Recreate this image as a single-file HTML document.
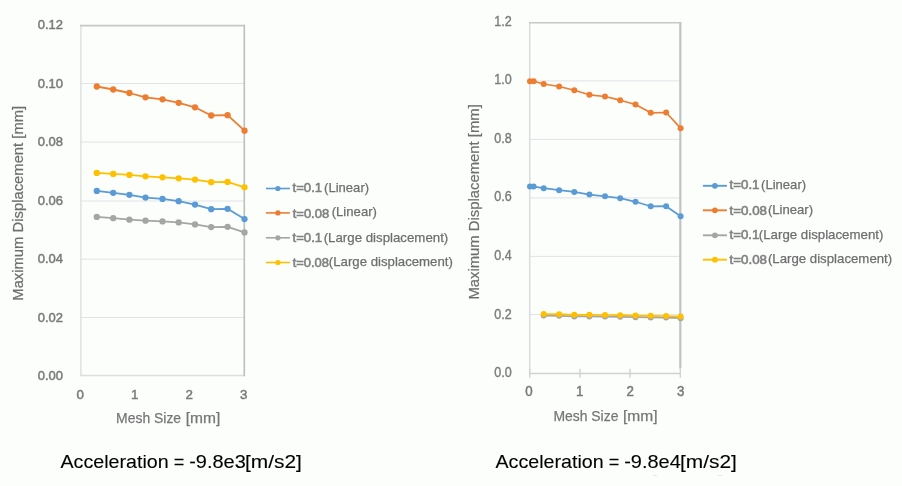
<!DOCTYPE html>
<html lang="en">
<head>
<meta charset="utf-8">
<title>Maximum Displacement - Mesh Size</title>
<style>
html,body{margin:0;padding:0;background:#fbfefb;}
body{width:902px;height:486px;overflow:hidden;}
svg{display:block;font-family:"Liberation Sans",sans-serif;}
.soft{filter:blur(0.55px);}
text{stroke-linejoin:round;}
</style>
</head>
<body>
<svg width="902" height="486" viewBox="0 0 902 486">
<rect x="0" y="0" width="902" height="486" fill="#fbfefb"/>
<g id="chart-left" class="soft">
<line x1="80.9" y1="83.5" x2="244.1" y2="83.5" stroke="#e3e2e6" stroke-width="1"/>
<line x1="80.9" y1="142.1" x2="244.1" y2="142.1" stroke="#e3e2e6" stroke-width="1"/>
<line x1="80.9" y1="201.0" x2="244.1" y2="201.0" stroke="#e3e2e6" stroke-width="1"/>
<line x1="80.9" y1="259.2" x2="244.1" y2="259.2" stroke="#e3e2e6" stroke-width="1"/>
<line x1="80.9" y1="317.5" x2="244.1" y2="317.5" stroke="#e3e2e6" stroke-width="1"/>
<line x1="80.9" y1="24.8" x2="80.9" y2="376.3" stroke="#dedede" stroke-width="1.4"/>
<line x1="80.1" y1="375.6" x2="245.0" y2="375.6" stroke="#dedede" stroke-width="1.5"/>
<line x1="80.1" y1="25.6" x2="245.0" y2="25.6" stroke="#c8c8c8" stroke-width="1.8"/>
<line x1="244.3" y1="24.7" x2="244.3" y2="376.3" stroke="#bebebe" stroke-width="1.6"/>
<polyline points="96.8,190.9 113.2,192.8 129.4,194.8 145.5,197.6 162.5,198.9 178.7,201.2 195.0,204.6 211.2,209.2 227.6,208.8 244.5,219.1" fill="none" stroke="#5b9bd5" stroke-width="1.8" stroke-linejoin="round" stroke-linecap="round"/>
<circle cx="96.8" cy="190.9" r="3.15" fill="#5b9bd5"/><circle cx="113.2" cy="192.8" r="3.15" fill="#5b9bd5"/><circle cx="129.4" cy="194.8" r="3.15" fill="#5b9bd5"/><circle cx="145.5" cy="197.6" r="3.15" fill="#5b9bd5"/><circle cx="162.5" cy="198.9" r="3.15" fill="#5b9bd5"/><circle cx="178.7" cy="201.2" r="3.15" fill="#5b9bd5"/><circle cx="195.0" cy="204.6" r="3.15" fill="#5b9bd5"/><circle cx="211.2" cy="209.2" r="3.15" fill="#5b9bd5"/><circle cx="227.6" cy="208.8" r="3.15" fill="#5b9bd5"/><circle cx="244.5" cy="219.1" r="3.15" fill="#5b9bd5"/>
<polyline points="96.8,86.5 113.2,89.5 129.4,93.0 145.5,97.3 162.5,99.3 178.7,102.8 195.0,107.3 211.2,115.5 227.6,115.2 244.5,130.7" fill="none" stroke="#ed7d31" stroke-width="1.8" stroke-linejoin="round" stroke-linecap="round"/>
<circle cx="96.8" cy="86.5" r="3.15" fill="#ed7d31"/><circle cx="113.2" cy="89.5" r="3.15" fill="#ed7d31"/><circle cx="129.4" cy="93.0" r="3.15" fill="#ed7d31"/><circle cx="145.5" cy="97.3" r="3.15" fill="#ed7d31"/><circle cx="162.5" cy="99.3" r="3.15" fill="#ed7d31"/><circle cx="178.7" cy="102.8" r="3.15" fill="#ed7d31"/><circle cx="195.0" cy="107.3" r="3.15" fill="#ed7d31"/><circle cx="211.2" cy="115.5" r="3.15" fill="#ed7d31"/><circle cx="227.6" cy="115.2" r="3.15" fill="#ed7d31"/><circle cx="244.5" cy="130.7" r="3.15" fill="#ed7d31"/>
<polyline points="96.8,216.9 113.2,218.2 129.4,219.7 145.5,220.7 162.5,221.4 178.7,222.4 195.0,224.4 211.2,227.1 227.6,226.8 244.5,232.4" fill="none" stroke="#a5a5a5" stroke-width="1.8" stroke-linejoin="round" stroke-linecap="round"/>
<circle cx="96.8" cy="216.9" r="3.15" fill="#a5a5a5"/><circle cx="113.2" cy="218.2" r="3.15" fill="#a5a5a5"/><circle cx="129.4" cy="219.7" r="3.15" fill="#a5a5a5"/><circle cx="145.5" cy="220.7" r="3.15" fill="#a5a5a5"/><circle cx="162.5" cy="221.4" r="3.15" fill="#a5a5a5"/><circle cx="178.7" cy="222.4" r="3.15" fill="#a5a5a5"/><circle cx="195.0" cy="224.4" r="3.15" fill="#a5a5a5"/><circle cx="211.2" cy="227.1" r="3.15" fill="#a5a5a5"/><circle cx="227.6" cy="226.8" r="3.15" fill="#a5a5a5"/><circle cx="244.5" cy="232.4" r="3.15" fill="#a5a5a5"/>
<polyline points="96.8,172.9 113.2,173.9 129.4,174.9 145.5,176.3 162.5,177.3 178.7,178.3 195.0,179.6 211.2,182.2 227.6,181.9 244.5,187.3" fill="none" stroke="#ffc000" stroke-width="1.8" stroke-linejoin="round" stroke-linecap="round"/>
<circle cx="96.8" cy="172.9" r="3.15" fill="#ffc000"/><circle cx="113.2" cy="173.9" r="3.15" fill="#ffc000"/><circle cx="129.4" cy="174.9" r="3.15" fill="#ffc000"/><circle cx="145.5" cy="176.3" r="3.15" fill="#ffc000"/><circle cx="162.5" cy="177.3" r="3.15" fill="#ffc000"/><circle cx="178.7" cy="178.3" r="3.15" fill="#ffc000"/><circle cx="195.0" cy="179.6" r="3.15" fill="#ffc000"/><circle cx="211.2" cy="182.2" r="3.15" fill="#ffc000"/><circle cx="227.6" cy="181.9" r="3.15" fill="#ffc000"/><circle cx="244.5" cy="187.3" r="3.15" fill="#ffc000"/>
<text x="63.0" y="29.0" font-size="13.6" text-anchor="end" fill="#7a7a7a" textLength="25.3" lengthAdjust="spacingAndGlyphs" stroke="#7a7a7a" stroke-width="0.5">0.12</text>
<text x="63.0" y="87.5" font-size="13.6" text-anchor="end" fill="#7a7a7a" textLength="25.3" lengthAdjust="spacingAndGlyphs" stroke="#7a7a7a" stroke-width="0.5">0.10</text>
<text x="63.0" y="146.0" font-size="13.6" text-anchor="end" fill="#7a7a7a" textLength="25.3" lengthAdjust="spacingAndGlyphs" stroke="#7a7a7a" stroke-width="0.5">0.08</text>
<text x="63.0" y="204.5" font-size="13.6" text-anchor="end" fill="#7a7a7a" textLength="25.3" lengthAdjust="spacingAndGlyphs" stroke="#7a7a7a" stroke-width="0.5">0.06</text>
<text x="63.0" y="263.0" font-size="13.6" text-anchor="end" fill="#7a7a7a" textLength="25.3" lengthAdjust="spacingAndGlyphs" stroke="#7a7a7a" stroke-width="0.5">0.04</text>
<text x="63.0" y="321.5" font-size="13.6" text-anchor="end" fill="#7a7a7a" textLength="25.3" lengthAdjust="spacingAndGlyphs" stroke="#7a7a7a" stroke-width="0.5">0.02</text>
<text x="63.0" y="380.0" font-size="13.6" text-anchor="end" fill="#7a7a7a" textLength="25.3" lengthAdjust="spacingAndGlyphs" stroke="#7a7a7a" stroke-width="0.5">0.00</text>
<text x="80.1" y="399.0" font-size="13.6" text-anchor="middle" fill="#7a7a7a" textLength="7.4" lengthAdjust="spacingAndGlyphs" stroke="#7a7a7a" stroke-width="0.5">0</text>
<text x="134.6" y="399.0" font-size="13.6" text-anchor="middle" fill="#7a7a7a" textLength="7.4" lengthAdjust="spacingAndGlyphs" stroke="#7a7a7a" stroke-width="0.5">1</text>
<text x="189.2" y="399.0" font-size="13.6" text-anchor="middle" fill="#7a7a7a" textLength="7.4" lengthAdjust="spacingAndGlyphs" stroke="#7a7a7a" stroke-width="0.5">2</text>
<text x="243.8" y="399.0" font-size="13.6" text-anchor="middle" fill="#7a7a7a" textLength="7.4" lengthAdjust="spacingAndGlyphs" stroke="#7a7a7a" stroke-width="0.5">3</text>
<text y="423.3" font-size="14.4" fill="#767676" stroke="#767676" stroke-width="0.25"><tspan x="116.1" textLength="65.0" lengthAdjust="spacingAndGlyphs">Mesh Size</tspan> <tspan x="185.7" textLength="34.6" lengthAdjust="spacingAndGlyphs">[mm]</tspan></text>
<text transform="translate(22.6,300.7) rotate(-90)" font-size="14.4" fill="#6e6e6e" stroke="#6e6e6e" stroke-width="0.25" textLength="194.9" lengthAdjust="spacingAndGlyphs">Maximum Displacement [mm]</text>
<line x1="265.9" y1="188.5" x2="289.9" y2="188.5" stroke="#5b9bd5" stroke-width="1.6"/><circle cx="277.9" cy="188.5" r="2.6" fill="#5b9bd5"/>
<text x="292.5" y="192.2" font-size="13.4" text-anchor="start" fill="#808080" textLength="29.6" lengthAdjust="spacingAndGlyphs" stroke="#808080" stroke-width="0.6">t=0.1</text>
<text x="324.1" y="192.2" font-size="13.4" text-anchor="start" fill="#6e6e6e" textLength="45.0" lengthAdjust="spacingAndGlyphs" stroke="#6e6e6e" stroke-width="0.25">(Linear)</text>
<line x1="265.9" y1="212.9" x2="289.9" y2="212.9" stroke="#ed7d31" stroke-width="1.6"/><circle cx="277.9" cy="212.9" r="2.6" fill="#ed7d31"/>
<text x="292.7" y="217.5" font-size="13.4" text-anchor="start" fill="#808080" textLength="36.5" lengthAdjust="spacingAndGlyphs" stroke="#808080" stroke-width="0.6">t=0.08</text>
<text x="331.7" y="215.5" font-size="13.4" text-anchor="start" fill="#6e6e6e" textLength="45.3" lengthAdjust="spacingAndGlyphs" stroke="#6e6e6e" stroke-width="0.25">(Linear)</text>
<line x1="265.9" y1="237.8" x2="289.9" y2="237.8" stroke="#a5a5a5" stroke-width="1.6"/><circle cx="277.9" cy="237.8" r="2.6" fill="#a5a5a5"/>
<text x="292.5" y="242.4" font-size="13.4" text-anchor="start" fill="#808080" textLength="29.6" lengthAdjust="spacingAndGlyphs" stroke="#808080" stroke-width="0.6">t=0.1</text>
<text x="323.7" y="241.8" font-size="13.4" text-anchor="start" fill="#6e6e6e" textLength="124.6" lengthAdjust="spacingAndGlyphs" stroke="#6e6e6e" stroke-width="0.25">(Large displacement)</text>
<line x1="265.9" y1="262.5" x2="289.9" y2="262.5" stroke="#ffc000" stroke-width="1.6"/><circle cx="277.9" cy="262.5" r="2.6" fill="#ffc000"/>
<text x="292.7" y="267.2" font-size="13.4" text-anchor="start" fill="#808080" textLength="36.3" lengthAdjust="spacingAndGlyphs" stroke="#808080" stroke-width="0.6">t=0.08</text>
<text x="328.8" y="266.0" font-size="13.4" text-anchor="start" fill="#6e6e6e" textLength="124.1" lengthAdjust="spacingAndGlyphs" stroke="#6e6e6e" stroke-width="0.25">(Large displacement)</text>
</g>
<text y="467.9" font-size="18.6" fill="#000" stroke="#000" stroke-width="0.1"><tspan x="60.5" textLength="108.2" lengthAdjust="spacingAndGlyphs">Acceleration</tspan> <tspan x="173.8" textLength="10.6" lengthAdjust="spacingAndGlyphs">=</tspan> <tspan x="189.2" textLength="56.6" lengthAdjust="spacingAndGlyphs">-9.8e3</tspan><tspan x="245.0" textLength="56.9" lengthAdjust="spacingAndGlyphs">[m/s2]</tspan></text>
<g id="chart-right" class="soft">
<line x1="529.7" y1="80.9" x2="680.3" y2="80.9" stroke="#e3e2e6" stroke-width="1"/>
<line x1="529.7" y1="139.4" x2="680.3" y2="139.4" stroke="#e3e2e6" stroke-width="1"/>
<line x1="529.7" y1="197.9" x2="680.3" y2="197.9" stroke="#e3e2e6" stroke-width="1"/>
<line x1="529.7" y1="256.4" x2="680.3" y2="256.4" stroke="#e3e2e6" stroke-width="1"/>
<line x1="529.7" y1="314.6" x2="680.3" y2="314.6" stroke="#e3e2e6" stroke-width="1"/>
<line x1="529.7" y1="22.05" x2="529.7" y2="374.3" stroke="#dadadd" stroke-width="1.4"/>
<line x1="529.0" y1="373.5" x2="681.0" y2="373.5" stroke="#d2d2d2" stroke-width="1.4"/>
<line x1="529.7" y1="368.7" x2="529.7" y2="377.8" stroke="#d2d2d2" stroke-width="1.4"/>
<line x1="580.0" y1="368.7" x2="580.0" y2="377.8" stroke="#d2d2d2" stroke-width="1.4"/>
<line x1="630.0" y1="368.7" x2="630.0" y2="377.8" stroke="#d2d2d2" stroke-width="1.4"/>
<line x1="680.3" y1="368.7" x2="680.3" y2="377.8" stroke="#d2d2d2" stroke-width="1.4"/>
<line x1="529.0" y1="22.75" x2="681.3" y2="22.75" stroke="#c8c8c8" stroke-width="1.5"/>
<line x1="680.3" y1="22.05" x2="680.3" y2="368.6" stroke="#c2c2c4" stroke-width="2.2"/>
<polyline points="530.0,186.6 533.6,186.6 543.7,188.2 559.1,190.2 574.3,191.9 589.4,194.6 605.0,196.3 620.2,198.2 635.5,201.8 650.7,206.3 666.1,206.2 680.6,216.2" fill="none" stroke="#5b9bd5" stroke-width="1.7" stroke-linejoin="round" stroke-linecap="round"/>
<circle cx="530.0" cy="186.6" r="3.0" fill="#5b9bd5"/><circle cx="533.6" cy="186.6" r="3.0" fill="#5b9bd5"/><circle cx="543.7" cy="188.2" r="3.0" fill="#5b9bd5"/><circle cx="559.1" cy="190.2" r="3.0" fill="#5b9bd5"/><circle cx="574.3" cy="191.9" r="3.0" fill="#5b9bd5"/><circle cx="589.4" cy="194.6" r="3.0" fill="#5b9bd5"/><circle cx="605.0" cy="196.3" r="3.0" fill="#5b9bd5"/><circle cx="620.2" cy="198.2" r="3.0" fill="#5b9bd5"/><circle cx="635.5" cy="201.8" r="3.0" fill="#5b9bd5"/><circle cx="650.7" cy="206.3" r="3.0" fill="#5b9bd5"/><circle cx="666.1" cy="206.2" r="3.0" fill="#5b9bd5"/><circle cx="680.6" cy="216.2" r="3.0" fill="#5b9bd5"/>
<polyline points="530.0,81.2 533.6,81.2 543.7,84.0 559.1,86.5 574.3,90.3 589.4,94.8 605.0,96.5 620.2,100.2 635.5,104.5 650.7,112.8 666.1,112.5 680.6,128.2" fill="none" stroke="#ed7d31" stroke-width="1.7" stroke-linejoin="round" stroke-linecap="round"/>
<circle cx="530.0" cy="81.2" r="3.0" fill="#ed7d31"/><circle cx="533.6" cy="81.2" r="3.0" fill="#ed7d31"/><circle cx="543.7" cy="84.0" r="3.0" fill="#ed7d31"/><circle cx="559.1" cy="86.5" r="3.0" fill="#ed7d31"/><circle cx="574.3" cy="90.3" r="3.0" fill="#ed7d31"/><circle cx="589.4" cy="94.8" r="3.0" fill="#ed7d31"/><circle cx="605.0" cy="96.5" r="3.0" fill="#ed7d31"/><circle cx="620.2" cy="100.2" r="3.0" fill="#ed7d31"/><circle cx="635.5" cy="104.5" r="3.0" fill="#ed7d31"/><circle cx="650.7" cy="112.8" r="3.0" fill="#ed7d31"/><circle cx="666.1" cy="112.5" r="3.0" fill="#ed7d31"/><circle cx="680.6" cy="128.2" r="3.0" fill="#ed7d31"/>
<polyline points="543.7,315.6 559.1,315.8 574.3,316.4 589.4,316.4 605.0,316.6 620.2,316.8 635.5,317.2 650.7,317.4 666.1,317.6 680.6,318.2" fill="none" stroke="#a5a5a5" stroke-width="1.7" stroke-linejoin="round" stroke-linecap="round"/>
<circle cx="543.7" cy="315.6" r="3.0" fill="#a5a5a5"/><circle cx="559.1" cy="315.8" r="3.0" fill="#a5a5a5"/><circle cx="574.3" cy="316.4" r="3.0" fill="#a5a5a5"/><circle cx="589.4" cy="316.4" r="3.0" fill="#a5a5a5"/><circle cx="605.0" cy="316.6" r="3.0" fill="#a5a5a5"/><circle cx="620.2" cy="316.8" r="3.0" fill="#a5a5a5"/><circle cx="635.5" cy="317.2" r="3.0" fill="#a5a5a5"/><circle cx="650.7" cy="317.4" r="3.0" fill="#a5a5a5"/><circle cx="666.1" cy="317.6" r="3.0" fill="#a5a5a5"/><circle cx="680.6" cy="318.2" r="3.0" fill="#a5a5a5"/>
<polyline points="543.7,314.0 559.1,314.2 574.3,314.8 589.4,314.8 605.0,315.0 620.2,315.2 635.5,315.6 650.7,315.8 666.1,316.0 680.6,316.6" fill="none" stroke="#ffc000" stroke-width="1.7" stroke-linejoin="round" stroke-linecap="round"/>
<circle cx="543.7" cy="314.0" r="3.0" fill="#ffc000"/><circle cx="559.1" cy="314.2" r="3.0" fill="#ffc000"/><circle cx="574.3" cy="314.8" r="3.0" fill="#ffc000"/><circle cx="589.4" cy="314.8" r="3.0" fill="#ffc000"/><circle cx="605.0" cy="315.0" r="3.0" fill="#ffc000"/><circle cx="620.2" cy="315.2" r="3.0" fill="#ffc000"/><circle cx="635.5" cy="315.6" r="3.0" fill="#ffc000"/><circle cx="650.7" cy="315.8" r="3.0" fill="#ffc000"/><circle cx="666.1" cy="316.0" r="3.0" fill="#ffc000"/><circle cx="680.6" cy="316.6" r="3.0" fill="#ffc000"/>
<text x="511.7" y="25.6" font-size="13.9" text-anchor="end" fill="#7c7c7c" textLength="17.4" lengthAdjust="spacingAndGlyphs" stroke="#7c7c7c" stroke-width="0.4">1.2</text>
<text x="511.7" y="84.2" font-size="13.9" text-anchor="end" fill="#7c7c7c" textLength="17.4" lengthAdjust="spacingAndGlyphs" stroke="#7c7c7c" stroke-width="0.4">1.0</text>
<text x="511.7" y="142.8" font-size="13.9" text-anchor="end" fill="#7c7c7c" textLength="17.4" lengthAdjust="spacingAndGlyphs" stroke="#7c7c7c" stroke-width="0.4">0.8</text>
<text x="511.7" y="201.4" font-size="13.9" text-anchor="end" fill="#7c7c7c" textLength="17.4" lengthAdjust="spacingAndGlyphs" stroke="#7c7c7c" stroke-width="0.4">0.6</text>
<text x="511.7" y="260.0" font-size="13.9" text-anchor="end" fill="#7c7c7c" textLength="17.4" lengthAdjust="spacingAndGlyphs" stroke="#7c7c7c" stroke-width="0.4">0.4</text>
<text x="511.7" y="318.6" font-size="13.9" text-anchor="end" fill="#7c7c7c" textLength="17.4" lengthAdjust="spacingAndGlyphs" stroke="#7c7c7c" stroke-width="0.4">0.2</text>
<text x="511.7" y="377.2" font-size="13.9" text-anchor="end" fill="#7c7c7c" textLength="17.4" lengthAdjust="spacingAndGlyphs" stroke="#7c7c7c" stroke-width="0.4">0.0</text>
<text x="528.9" y="396.4" font-size="13.8" text-anchor="middle" fill="#7a7a7a" textLength="7.4" lengthAdjust="spacingAndGlyphs" stroke="#7a7a7a" stroke-width="0.5">0</text>
<text x="579.7" y="396.4" font-size="13.8" text-anchor="middle" fill="#7a7a7a" textLength="7.4" lengthAdjust="spacingAndGlyphs" stroke="#7a7a7a" stroke-width="0.5">1</text>
<text x="630.3" y="396.4" font-size="13.8" text-anchor="middle" fill="#7a7a7a" textLength="7.4" lengthAdjust="spacingAndGlyphs" stroke="#7a7a7a" stroke-width="0.5">2</text>
<text x="680.6" y="396.4" font-size="13.8" text-anchor="middle" fill="#7a7a7a" textLength="7.4" lengthAdjust="spacingAndGlyphs" stroke="#7a7a7a" stroke-width="0.5">3</text>
<text y="421.2" font-size="14.4" fill="#767676" stroke="#767676" stroke-width="0.25"><tspan x="553.4" textLength="65.0" lengthAdjust="spacingAndGlyphs">Mesh Size</tspan> <tspan x="623.0" textLength="34.6" lengthAdjust="spacingAndGlyphs">[mm]</tspan></text>
<text transform="translate(479.2,299.6) rotate(-90)" font-size="14.4" fill="#6e6e6e" stroke="#6e6e6e" stroke-width="0.2" textLength="195.4" lengthAdjust="spacingAndGlyphs">Maximum Displacement [mm]</text>
<line x1="702.9" y1="185.8" x2="726.9" y2="185.8" stroke="#5b9bd5" stroke-width="1.9"/><circle cx="714.9" cy="185.8" r="2.9" fill="#5b9bd5"/>
<text x="729.5" y="189.4" font-size="13.4" text-anchor="start" fill="#808080" textLength="30.0" lengthAdjust="spacingAndGlyphs" stroke="#808080" stroke-width="0.6">t=0.1</text>
<text x="761.1" y="188.6" font-size="13.4" text-anchor="start" fill="#6e6e6e" textLength="45.0" lengthAdjust="spacingAndGlyphs" stroke="#6e6e6e" stroke-width="0.25">(Linear)</text>
<line x1="702.9" y1="210.3" x2="726.9" y2="210.3" stroke="#ed7d31" stroke-width="1.9"/><circle cx="714.9" cy="210.3" r="2.9" fill="#ed7d31"/>
<text x="729.5" y="214.9" font-size="13.4" text-anchor="start" fill="#808080" textLength="37.5" lengthAdjust="spacingAndGlyphs" stroke="#808080" stroke-width="0.6">t=0.08</text>
<text x="767.9" y="213.8" font-size="13.4" text-anchor="start" fill="#6e6e6e" textLength="45.2" lengthAdjust="spacingAndGlyphs" stroke="#6e6e6e" stroke-width="0.25">(Linear)</text>
<line x1="702.9" y1="235.3" x2="726.9" y2="235.3" stroke="#a5a5a5" stroke-width="1.9"/><circle cx="714.9" cy="235.3" r="2.9" fill="#a5a5a5"/>
<text x="729.5" y="239.1" font-size="13.4" text-anchor="start" fill="#808080" textLength="29.8" lengthAdjust="spacingAndGlyphs" stroke="#808080" stroke-width="0.6">t=0.1</text>
<text x="758.8" y="238.5" font-size="13.4" text-anchor="start" fill="#6e6e6e" textLength="124.6" lengthAdjust="spacingAndGlyphs" stroke="#6e6e6e" stroke-width="0.25">(Large displacement)</text>
<line x1="702.9" y1="259.7" x2="726.9" y2="259.7" stroke="#ffc000" stroke-width="1.9"/><circle cx="714.9" cy="259.7" r="2.9" fill="#ffc000"/>
<text x="729.5" y="264.1" font-size="13.4" text-anchor="start" fill="#808080" textLength="37.5" lengthAdjust="spacingAndGlyphs" stroke="#808080" stroke-width="0.6">t=0.08</text>
<text x="767.9" y="262.6" font-size="13.4" text-anchor="start" fill="#6e6e6e" textLength="124.3" lengthAdjust="spacingAndGlyphs" stroke="#6e6e6e" stroke-width="0.25">(Large displacement)</text>
</g>
<text y="467.9" font-size="18.6" fill="#000" stroke="#000" stroke-width="0.1"><tspan x="495.5" textLength="108.2" lengthAdjust="spacingAndGlyphs">Acceleration</tspan> <tspan x="608.8" textLength="10.6" lengthAdjust="spacingAndGlyphs">=</tspan> <tspan x="624.2" textLength="56.6" lengthAdjust="spacingAndGlyphs">-9.8e4</tspan><tspan x="680.0" textLength="56.9" lengthAdjust="spacingAndGlyphs">[m/s2]</tspan></text>
<rect x="653.2" y="475" width="3.6" height="1" fill="#e4e4e4"/><rect x="718.2" y="475" width="3.6" height="1" fill="#e4e4e4"/>
</svg>
</body>
</html>
